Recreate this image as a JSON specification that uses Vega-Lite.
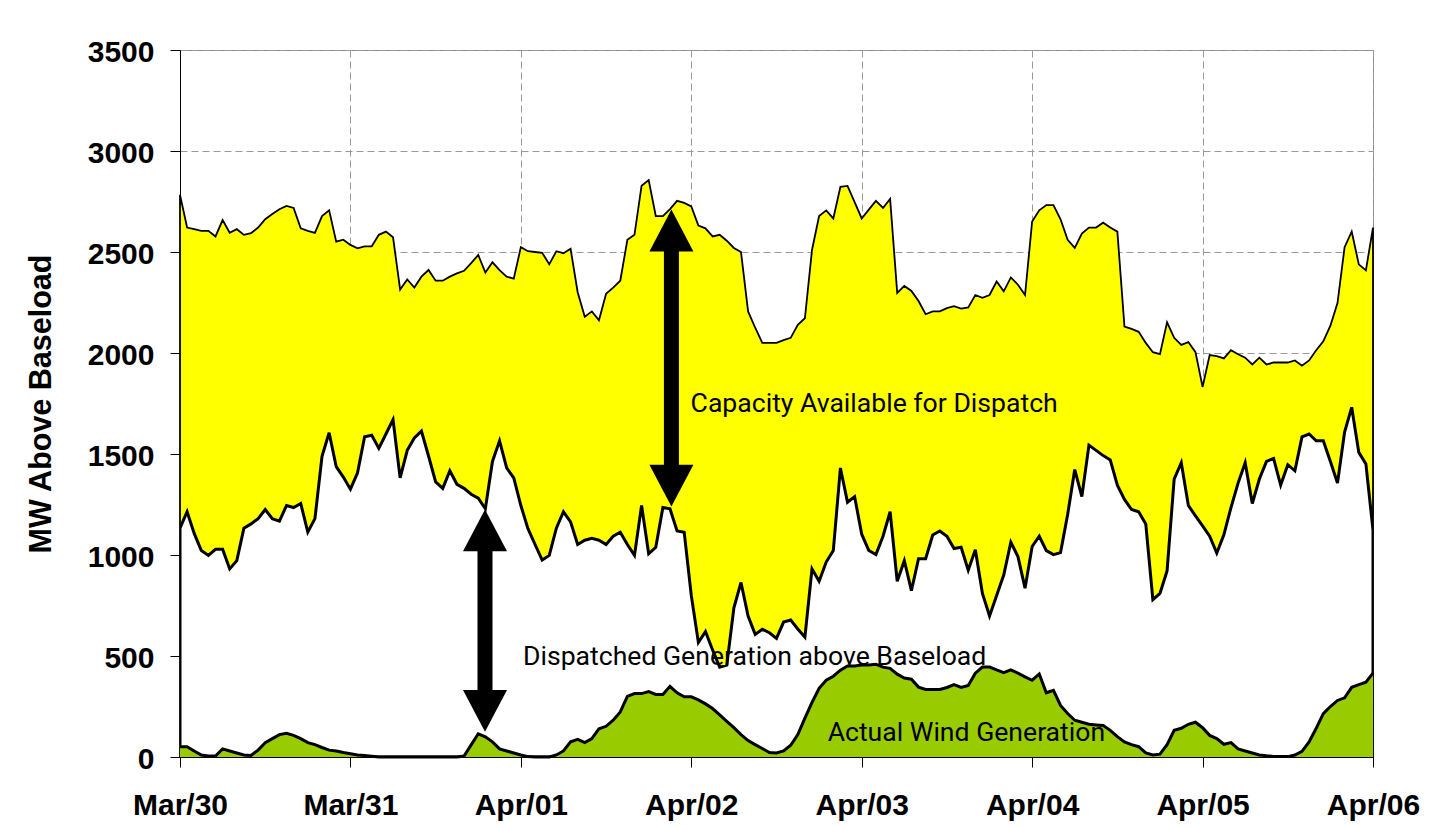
{
  "$schema": "https://vega.github.io/schema/vega-lite/v6.json",
  "width": 1193,
  "height": 707,
  "autosize": {"type": "none"},
  "padding": {"left": 180, "top": 50, "right": 65, "bottom": 70},
  "background": "white",
  "config": {
    "view": {"stroke": "#8c8c8c", "strokeWidth": 1},
    "axis": {
      "labelFont": "Liberation Sans", "labelFontWeight": "bold", "labelFontSize": 30, "labelColor": "black",
      "titleFont": "Liberation Sans", "titleFontWeight": "bold", "titleFontSize": 30.5, "titleColor": "black",
      "domainColor": "black", "domainWidth": 1, "tickColor": "black", "tickSize": 10, "tickWidth": 1,
      "gridColor": "#999999", "gridDash": [7, 4], "gridWidth": 1
    }
  },
  "datasets": {
    "series": [
      {"h":0,"cap":2783,"disp":1133,"wind":51},{"h":1,"cap":2621,"disp":1214,"wind":51},{"h":2,"cap":2613,"disp":1107,"wind":30},{"h":3,"cap":2605,"disp":1022,"wind":10},{"h":4,"cap":2605,"disp":998,"wind":5},{"h":5,"cap":2577,"disp":1028,"wind":5},{"h":6,"cap":2658,"disp":1028,"wind":40},{"h":7,"cap":2595,"disp":931,"wind":30},{"h":8,"cap":2613,"disp":972,"wind":20},{"h":9,"cap":2585,"disp":1133,"wind":10},{"h":10,"cap":2593,"disp":1154,"wind":8},{"h":11,"cap":2621,"disp":1180,"wind":34},{"h":12,"cap":2662,"disp":1225,"wind":71},{"h":13,"cap":2688,"disp":1180,"wind":91},{"h":14,"cap":2712,"disp":1168,"wind":111},{"h":15,"cap":2728,"disp":1245,"wind":117},{"h":16,"cap":2718,"disp":1235,"wind":107},{"h":17,"cap":2617,"disp":1255,"wind":91},{"h":18,"cap":2605,"disp":1113,"wind":71},{"h":19,"cap":2595,"disp":1180,"wind":61},{"h":20,"cap":2678,"disp":1488,"wind":47},{"h":21,"cap":2706,"disp":1605,"wind":34},{"h":22,"cap":2551,"disp":1437,"wind":30},{"h":23,"cap":2561,"disp":1386,"wind":22},
      {"h":24,"cap":2535,"disp":1326,"wind":16},{"h":25,"cap":2518,"disp":1407,"wind":10},{"h":26,"cap":2528,"disp":1585,"wind":8},{"h":27,"cap":2528,"disp":1593,"wind":4},{"h":28,"cap":2585,"disp":1528,"wind":0},{"h":29,"cap":2601,"disp":1599,"wind":0},{"h":30,"cap":2573,"disp":1670,"wind":0},{"h":31,"cap":2314,"disp":1382,"wind":0},{"h":32,"cap":2364,"disp":1518,"wind":0},{"h":33,"cap":2324,"disp":1579,"wind":0},{"h":34,"cap":2378,"disp":1613,"wind":0},{"h":35,"cap":2411,"disp":1490,"wind":0},{"h":36,"cap":2358,"disp":1362,"wind":0},{"h":37,"cap":2358,"disp":1330,"wind":0},{"h":38,"cap":2378,"disp":1417,"wind":0},{"h":39,"cap":2394,"disp":1350,"wind":0},{"h":40,"cap":2407,"disp":1330,"wind":5},{"h":41,"cap":2445,"disp":1301,"wind":60},{"h":42,"cap":2485,"disp":1281,"wind":115},{"h":43,"cap":2398,"disp":1229,"wind":100},{"h":44,"cap":2449,"disp":1463,"wind":75},{"h":45,"cap":2410,"disp":1565,"wind":40},{"h":46,"cap":2378,"disp":1431,"wind":30},{"h":47,"cap":2368,"disp":1382,"wind":20},
      {"h":48,"cap":2524,"disp":1245,"wind":10},{"h":49,"cap":2504,"disp":1130,"wind":2},{"h":50,"cap":2500,"disp":1052,"wind":0},{"h":51,"cap":2496,"disp":975,"wind":0},{"h":52,"cap":2439,"disp":998,"wind":0},{"h":53,"cap":2504,"disp":1133,"wind":10},{"h":54,"cap":2494,"disp":1214,"wind":30},{"h":55,"cap":2516,"disp":1164,"wind":75},{"h":56,"cap":2301,"disp":1052,"wind":87},{"h":57,"cap":2180,"disp":1073,"wind":71},{"h":58,"cap":2206,"disp":1083,"wind":91},{"h":59,"cap":2162,"disp":1073,"wind":140},{"h":60,"cap":2293,"disp":1052,"wind":152},{"h":61,"cap":2324,"disp":1093,"wind":182},{"h":62,"cap":2358,"disp":1113,"wind":223},{"h":63,"cap":2560,"disp":1052,"wind":300},{"h":64,"cap":2585,"disp":998,"wind":314},{"h":65,"cap":2828,"disp":1245,"wind":314},{"h":66,"cap":2856,"disp":1006,"wind":324},{"h":67,"cap":2678,"disp":1038,"wind":310},{"h":68,"cap":2678,"disp":1235,"wind":310},{"h":69,"cap":2712,"disp":1229,"wind":350},{"h":70,"cap":2753,"disp":1119,"wind":318},{"h":71,"cap":2743,"disp":1113,"wind":298},
      {"h":72,"cap":2726,"disp":800,"wind":298},{"h":73,"cap":2631,"disp":567,"wind":283},{"h":74,"cap":2617,"disp":621,"wind":263},{"h":75,"cap":2577,"disp":530,"wind":240},{"h":76,"cap":2585,"disp":445,"wind":208},{"h":77,"cap":2556,"disp":455,"wind":176},{"h":78,"cap":2520,"disp":739,"wind":145},{"h":79,"cap":2500,"disp":864,"wind":111},{"h":80,"cap":2206,"disp":698,"wind":81},{"h":81,"cap":2125,"disp":607,"wind":61},{"h":82,"cap":2050,"disp":632,"wind":42},{"h":83,"cap":2050,"disp":615,"wind":22},{"h":84,"cap":2050,"disp":587,"wind":20},{"h":85,"cap":2064,"disp":668,"wind":30},{"h":86,"cap":2075,"disp":678,"wind":58},{"h":87,"cap":2139,"disp":634,"wind":111},{"h":88,"cap":2172,"disp":593,"wind":192},{"h":89,"cap":2510,"disp":931,"wind":270},{"h":90,"cap":2678,"disp":870,"wind":340},{"h":91,"cap":2706,"disp":965,"wind":380},{"h":92,"cap":2666,"disp":1022,"wind":400},{"h":93,"cap":2823,"disp":1431,"wind":430},{"h":94,"cap":2827,"disp":1261,"wind":451},{"h":95,"cap":2747,"disp":1289,"wind":451},
      {"h":96,"cap":2666,"disp":1103,"wind":455},{"h":97,"cap":2710,"disp":1022,"wind":455},{"h":98,"cap":2753,"disp":1002,"wind":459},{"h":99,"cap":2718,"disp":1093,"wind":445},{"h":100,"cap":2763,"disp":1214,"wind":439},{"h":101,"cap":2297,"disp":870,"wind":410},{"h":102,"cap":2332,"disp":972,"wind":391},{"h":103,"cap":2307,"disp":824,"wind":385},{"h":104,"cap":2257,"disp":982,"wind":346},{"h":105,"cap":2192,"disp":982,"wind":334},{"h":106,"cap":2206,"disp":1099,"wind":334},{"h":107,"cap":2206,"disp":1119,"wind":334},{"h":108,"cap":2222,"disp":1093,"wind":344},{"h":109,"cap":2232,"disp":1032,"wind":358},{"h":110,"cap":2220,"disp":1038,"wind":344},{"h":111,"cap":2226,"disp":925,"wind":354},{"h":112,"cap":2287,"disp":1026,"wind":415},{"h":113,"cap":2273,"disp":810,"wind":445},{"h":114,"cap":2287,"disp":698,"wind":445},{"h":115,"cap":2354,"disp":800,"wind":431},{"h":116,"cap":2305,"disp":901,"wind":418},{"h":117,"cap":2374,"disp":1063,"wind":431},{"h":118,"cap":2338,"disp":992,"wind":415},{"h":119,"cap":2287,"disp":836,"wind":397},
      {"h":120,"cap":2651,"disp":1042,"wind":380},{"h":121,"cap":2706,"disp":1093,"wind":411},{"h":122,"cap":2732,"disp":1022,"wind":318},{"h":123,"cap":2732,"disp":1002,"wind":330},{"h":124,"cap":2662,"disp":1012,"wind":255},{"h":125,"cap":2560,"disp":1200,"wind":215},{"h":126,"cap":2520,"disp":1423,"wind":182},{"h":127,"cap":2591,"disp":1289,"wind":172},{"h":128,"cap":2621,"disp":1544,"wind":162},{"h":129,"cap":2621,"disp":1518,"wind":159},{"h":130,"cap":2645,"disp":1492,"wind":156},{"h":131,"cap":2621,"disp":1471,"wind":132},{"h":132,"cap":2601,"disp":1346,"wind":101},{"h":133,"cap":2131,"disp":1275,"wind":75},{"h":134,"cap":2119,"disp":1225,"wind":61},{"h":135,"cap":2105,"disp":1214,"wind":51},{"h":136,"cap":2050,"disp":1154,"wind":20},{"h":137,"cap":2004,"disp":779,"wind":10},{"h":138,"cap":1994,"disp":810,"wind":14},{"h":139,"cap":2152,"disp":921,"wind":61},{"h":140,"cap":2075,"disp":1376,"wind":132},{"h":141,"cap":2040,"disp":1457,"wind":142},{"h":142,"cap":2054,"disp":1245,"wind":162},{"h":143,"cap":2004,"disp":1194,"wind":172},
      {"h":144,"cap":1832,"disp":1144,"wind":145},{"h":145,"cap":1990,"disp":1093,"wind":107},{"h":146,"cap":1984,"disp":1010,"wind":91},{"h":147,"cap":1973,"disp":1100,"wind":63},{"h":148,"cap":2014,"disp":1235,"wind":71},{"h":149,"cap":1994,"disp":1356,"wind":40},{"h":150,"cap":1977,"disp":1457,"wind":30},{"h":151,"cap":1943,"disp":1255,"wind":20},{"h":152,"cap":1977,"disp":1376,"wind":10},{"h":153,"cap":1943,"disp":1463,"wind":6},{"h":154,"cap":1953,"disp":1478,"wind":3},{"h":155,"cap":1953,"disp":1346,"wind":2},{"h":156,"cap":1953,"disp":1447,"wind":2},{"h":157,"cap":1963,"disp":1417,"wind":10},{"h":158,"cap":1937,"disp":1585,"wind":28},{"h":159,"cap":1963,"disp":1599,"wind":75},{"h":160,"cap":2014,"disp":1565,"wind":142},{"h":161,"cap":2058,"disp":1565,"wind":215},{"h":162,"cap":2135,"disp":1463,"wind":250},{"h":163,"cap":2247,"disp":1356,"wind":280},{"h":164,"cap":2524,"disp":1609,"wind":293},{"h":165,"cap":2601,"disp":1731,"wind":345},{"h":166,"cap":2439,"disp":1508,"wind":358},{"h":167,"cap":2409,"disp":1451,"wind":370},{"h":168,"cap":2621,"disp":1123,"wind":415}
    ],
    "notes": [
      {"h": 71.9, "v": 1710, "label": "Capacity Available for Dispatch"},
      {"h": 48.3, "v": 455, "label": "Dispatched Generation above Baseload"},
      {"h": 91.2, "v": 81, "label": "Actual Wind Generation"}
    ],
    "arrows": [
      {"h": 69.2, "top": 2710, "bottom": 1240},
      {"h": 42.95, "top": 1225, "bottom": 125}
    ]
  },
  "encoding": {
    "x": {
      "field": "h", "type": "quantitative",
      "scale": {"domain": [0, 168], "nice": false, "zero": false},
      "axis": {
        "title": null, "values": [0, 24, 48, 72, 96, 120, 144, 168], "grid": true,
        "labelExpr": "['Mar/30','Mar/31','Apr/01','Apr/02','Apr/03','Apr/04','Apr/05','Apr/06'][round(datum.value/24)]",
        "labelPadding": 23, "labelFlush": false, "labelOverlap": false
      }
    }
  },
  "layer": [
    {
      "data": {"name": "series"},
      "mark": {"type": "area", "fill": "#FFFF00", "fillOpacity": 1, "opacity": 1, "stroke": "black", "strokeWidth": 1.8},
      "encoding": {
        "y": {
          "field": "cap", "type": "quantitative", "title": "MW Above Baseload",
          "scale": {"domain": [0, 3500], "nice": false},
          "axis": {
            "values": [0, 500, 1000, 1500, 2000, 2500, 3000, 3500], "grid": true, "format": "d",
            "labelPadding": 16, "labelOffset": 2,
            "titleX": -130, "titleBaseline": "alphabetic", "titleAngle": -90
          }
        }
      }
    },
    {
      "data": {"name": "series"},
      "mark": {"type": "area", "fill": "white", "fillOpacity": 1, "opacity": 1, "stroke": "black", "strokeWidth": 3, "clip": true},
      "encoding": {"y": {"field": "disp", "type": "quantitative", "title": "MW Above Baseload"}}
    },
    {
      "data": {"name": "series"},
      "mark": {"type": "area", "fill": "#99CC00", "fillOpacity": 1, "opacity": 1, "line": {"stroke": "black", "color": "black", "strokeWidth": 3, "opacity": 1}},
      "encoding": {"y": {"field": "wind", "type": "quantitative", "title": "MW Above Baseload"}}
    },
    {
      "data": {"name": "notes"},
      "mark": {"type": "text", "font": "Roboto", "fontSize": 26.6, "align": "left", "baseline": "alphabetic", "color": "black"},
      "encoding": {
        "y": {"field": "v", "type": "quantitative", "title": "MW Above Baseload"},
        "text": {"field": "label"}
      }
    },
    {
      "data": {"name": "arrows"},
      "mark": {"type": "rule", "color": "black", "strokeWidth": 15, "strokeCap": "butt", "yOffset": 30, "y2Offset": -30},
      "encoding": {
        "y": {"field": "top", "type": "quantitative", "title": "MW Above Baseload"},
        "y2": {"field": "bottom"}
      }
    },
    {
      "data": {"name": "arrows"},
      "mark": {"type": "point", "shape": "M0,0L1,1.9L-1,1.9Z", "filled": true, "color": "black", "size": 1936, "opacity": 1, "strokeWidth": 0},
      "encoding": {"y": {"field": "top", "type": "quantitative", "title": "MW Above Baseload"}}
    },
    {
      "data": {"name": "arrows"},
      "mark": {"type": "point", "shape": "M0,0L1,-1.9L-1,-1.9Z", "filled": true, "color": "black", "size": 1936, "opacity": 1, "strokeWidth": 0},
      "encoding": {"y": {"field": "bottom", "type": "quantitative", "title": "MW Above Baseload"}}
    }
  ]
}
